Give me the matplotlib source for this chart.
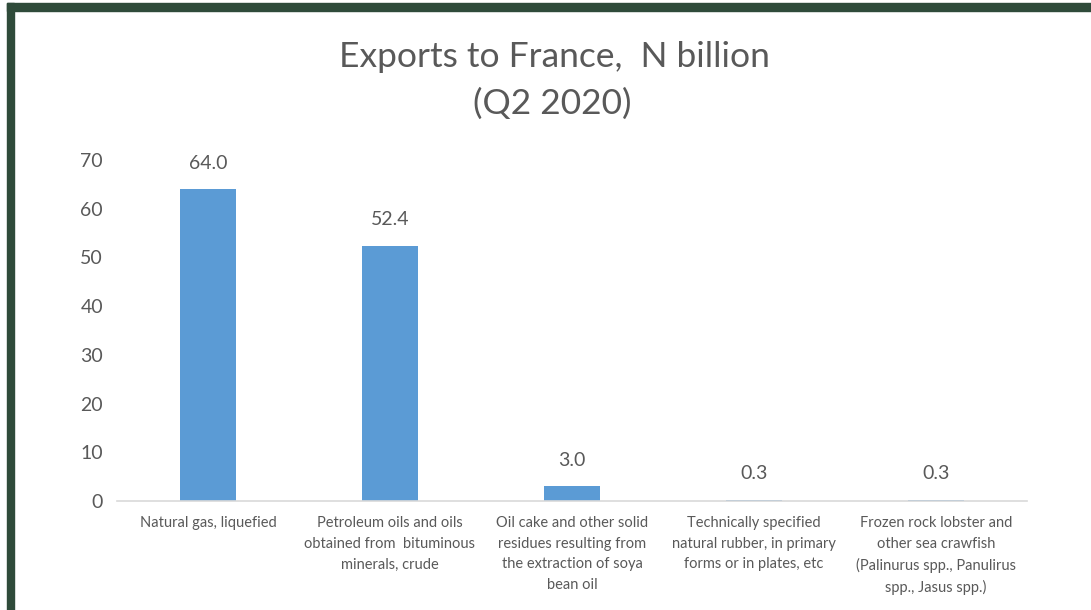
import matplotlib
matplotlib.use("Agg")
import matplotlib.pyplot as plt
from matplotlib.patches import Rectangle

# chart data
categories = [
    "Natural gas, liquefied",
    "Petroleum oils and oils\nobtained from  bituminous\nminerals, crude",
    "Oil cake and other solid\nresidues resulting from\nthe extraction of soya\nbean oil",
    "Technically specified\nnatural rubber, in primary\nforms or in plates, etc",
    "Frozen rock lobster and\nother sea crawfish\n(Palinurus spp., Panulirus\nspp., Jasus spp.)",
]
values = [64.0, 52.4, 3.0, 0.3, 0.3]
yticks = [0, 10, 20, 30, 40, 50, 60, 70]

W, H = 1091, 610
BAR = "#5b9bd5"
TXT = "#595959"
BORDER = "#2f4b3a"

plt.rcParams["font.family"] = ["Lato", "DejaVu Sans"]

fig = plt.figure(figsize=(W / 100, H / 100), dpi=100)

# dark green frame on top and left
fig.patches.append(Rectangle((7 / W, 0), 7 / W, 1 - 3 / H, transform=fig.transFigure,
                             color=BORDER, zorder=0))
fig.patches.append(Rectangle((7 / W, 1 - 11 / H), 1 - 7 / W, 8 / H, transform=fig.transFigure,
                             color=BORDER, zorder=0))

ax = fig.add_axes([117 / W, (H - 501) / H, 910 / W, 341 / H])

x = range(len(values))
ax.bar(x, values, width=0.31, color=BAR)
for i, v in enumerate(values):
    ax.text(i, v + 3.6, f"{v:.1f}", ha="center", va="bottom", fontsize=14, color=TXT)

ax.set_xlim(-0.5, len(values) - 0.5)
ax.set_ylim(0, 70)
ax.set_yticks(yticks)
ax.set_xticks(list(x))
ax.set_xticklabels(categories, fontsize=10.5, color=TXT, linespacing=1.6)
ax.tick_params(axis="x", length=0, pad=11)
ax.tick_params(axis="y", length=0, pad=10, labelsize=14, labelcolor=TXT)

for s in ["top", "right", "left"]:
    ax.spines[s].set_visible(False)
ax.spines["bottom"].set_color("#d9d9d9")
ax.spines["bottom"].set_linewidth(1.2)

fig.text(554 / W, 1 - 57 / H, "Exports to France,  N billion", ha="center", va="center",
         fontsize=25.5, color=TXT)
fig.text(552 / W, 1 - 104 / H, "(Q2 2020)", ha="center", va="center", fontsize=25.5, color=TXT)

fig.savefig("out.png", dpi=100)
